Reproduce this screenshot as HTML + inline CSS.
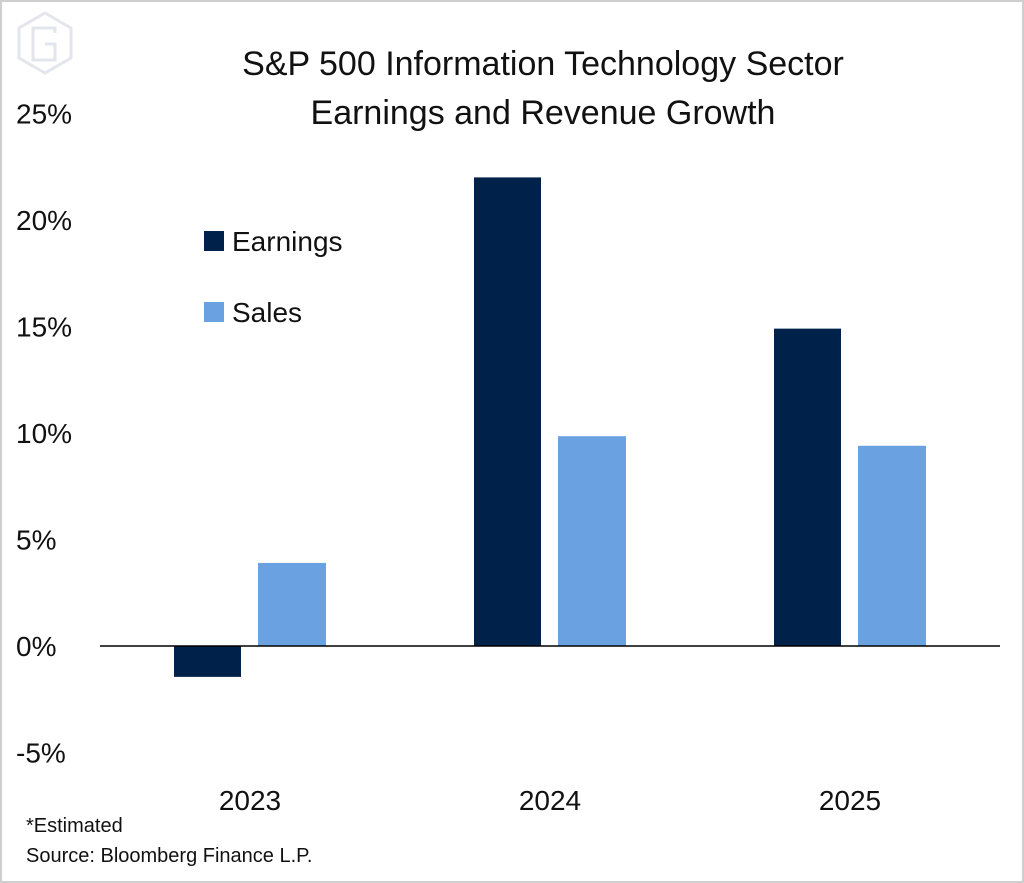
<!DOCTYPE html>
<html><head><meta charset="utf-8"><style>
body{margin:0;background:#fff}
svg{display:block;font-family:"Liberation Sans Narrow","Liberation Sans",sans-serif}
</style></head><body>
<svg id="chart" width="1024" height="883" viewBox="0 0 1024 883">
<rect x="1" y="1" width="1022" height="881" fill="#fff" stroke="#cfcfcf" stroke-width="2"/>
<g fill="none" stroke="#e3e6ec" stroke-width="3">
<polygon points="45,13 71,28 71,58 45,73 19,58 19,28"/>
<polyline points="55,33 55,28 33,28 33,60 55,60 55,44 45,44"/>
</g>
<text x="543" y="75" text-anchor="middle" font-size="34" fill="#111">S&amp;P 500 Information Technology Sector</text>
<text x="543" y="124" text-anchor="middle" font-size="34" fill="#111">Earnings and Revenue Growth</text>
<g id="yaxis"></g>
<g id="bars"></g>
<line x1="100" y1="646" x2="1000" y2="646" stroke="#000" stroke-width="1.5"/>
<g id="xaxis"></g>
<rect x="204" y="231" width="20" height="20" fill="#00224a"/>
<text x="232" y="251" font-size="28" fill="#111">Earnings</text>
<rect x="204" y="302" width="20" height="20" fill="#6aa1e0"/>
<text x="232" y="322" font-size="28" fill="#111">Sales</text>
<text x="26" y="832" font-size="20" fill="#111">*Estimated</text>
<text x="26" y="862" font-size="20" fill="#111">Source: Bloomberg Finance L.P.</text>
</svg>
<script>
const categories=["2023","2024","2025"];
const earnings=[-1.45,22.0,14.9];
const sales=[3.9,9.85,9.4];
const yTicks=[-5,0,5,10,15,20,25];
const NS="http://www.w3.org/2000/svg";
const y=v=>646-v*21.3;
const xc=i=>250+i*300;
function mk(tag,attrs,parent){const e=document.createElementNS(NS,tag);for(const k in attrs)e.setAttribute(k,attrs[k]);parent.appendChild(e);return e;}
const ya=document.getElementById('yaxis'),xa=document.getElementById('xaxis'),bg=document.getElementById('bars');
yTicks.forEach(t=>{const e=mk('text',{x:16,y:y(t)+10,'font-size':28,fill:'#111'},ya);e.textContent=t+'%';

});
categories.forEach((c,i)=>{const e=mk('text',{x:xc(i),y:810,'text-anchor':'middle','font-size':28,fill:'#111'},xa);e.textContent=c;


const v1=earnings[i],v2=sales[i];
const b1=mk('rect',{x:xc(i)-76,y:Math.min(y(v1),y(0)),width:67,height:Math.abs(y(v1)-y(0)),fill:'#00224a'},bg);


const b2=mk('rect',{x:xc(i)+8,y:Math.min(y(v2),y(0)),width:68,height:Math.abs(y(v2)-y(0)),fill:'#6aa1e0'},bg);

});
</script>
</body></html>
